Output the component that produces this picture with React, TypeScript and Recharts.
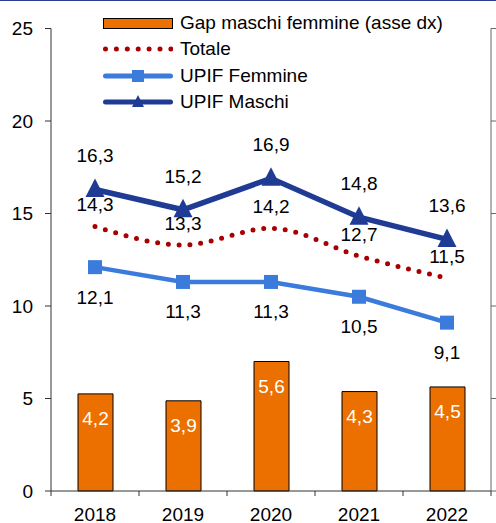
import React from 'react';
import { ComposedChart, Bar, Line, XAxis, YAxis, Legend, LabelList } from 'recharts';

// valori
const years = ['2018', '2019', '2020', '2021', '2022'];
const gapValues = [4.2, 3.9, 5.6, 4.3, 4.5];
const totaleValues = [14.3, 13.3, 14.2, 12.7, 11.5];
const femmineValues = [12.1, 11.3, 11.3, 10.5, 9.1];
const maschiValues = [16.3, 15.2, 16.9, 14.8, 13.6];
const leftTicks = [0, 5, 10, 15, 20, 25];
const rightTicks = [0, 4, 8, 12, 16, 20];

const data = years.map((year, i) => ({
  year,
  gap: gapValues[i],
  totale: totaleValues[i],
  femmine: femmineValues[i],
  maschi: maschiValues[i],
}));

const ORANGE = '#ec7000';
const RED = '#a80000';
const LIGHT_BLUE = '#3a7bdb';
const DARK_BLUE = '#1f3b94';
const AXIS = '#333333';
const FONT = '"Liberation Sans", Arial, sans-serif';

const fmt = (v: any) => Number(v).toFixed(1).replace('.', ',');

const Triangle = (props: any) => {
  const { cx, cy, index } = props;
  return (
    <polygon
      key={`tri-${index}`}
      points={`${cx},${cy - 11} ${cx + 9.5},${cy + 7.5} ${cx - 9.5},${cy + 7.5}`}
      fill={DARK_BLUE}
    />
  );
};

const Square = (props: any) => {
  const { cx, cy, index } = props;
  return <rect key={`sq-${index}`} x={cx - 7} y={cy - 7} width={14} height={14} fill={LIGHT_BLUE} />;
};

const YearTick = (props: any) => {
  const { x, y, payload, index, visibleTicksCount, width } = props;
  const half = width && visibleTicksCount ? width / visibleTicksCount / 2 : 44;
  const axisY = y - 17;
  return (
    <g>
      <line x1={x - half} x2={x - half} y1={axisY} y2={axisY + 5} stroke={AXIS} />
      {index === visibleTicksCount - 1 && (
        <line x1={x + half} x2={x + half} y1={axisY} y2={axisY + 5} stroke={AXIS} />
      )}
      <text x={x} y={y} dy="0.71em" textAnchor="middle" fontSize={19} fill="#000">
        {payload.value}
      </text>
    </g>
  );
};

const LegendBox = () => {
  const row = { display: 'flex', alignItems: 'center', height: 26.3 } as React.CSSProperties;
  const txt = { fontSize: 19, color: '#000', marginLeft: 7, whiteSpace: 'nowrap' } as React.CSSProperties;
  return (
    <div style={{ fontFamily: FONT }}>
      <div style={row}>
        <svg width={70} height={26}>
          <rect x={0.5} y={8.5} width={69} height={10} fill={ORANGE} stroke="#000" />
        </svg>
        <span style={txt}>Gap maschi femmine (asse dx)</span>
      </div>
      <div style={row}>
        <svg width={70} height={26}>
          <line x1={2.5} x2={68} y1={13} y2={13} stroke={RED} strokeWidth={5} strokeLinecap="round" strokeDasharray="0 10.9" />
        </svg>
        <span style={txt}>Totale</span>
      </div>
      <div style={row}>
        <svg width={70} height={26}>
          <line x1={2.5} x2={67.5} y1={13} y2={13} stroke={LIGHT_BLUE} strokeWidth={5} strokeLinecap="round" />
          <rect x={29} y={7} width={12} height={12} fill={LIGHT_BLUE} />
        </svg>
        <span style={txt}>UPIF Femmine</span>
      </div>
      <div style={row}>
        <svg width={70} height={26}>
          <line x1={2.5} x2={67.5} y1={13} y2={13} stroke={DARK_BLUE} strokeWidth={5} strokeLinecap="round" />
          <polygon points="35,6 41,18 29,18" fill={DARK_BLUE} />
        </svg>
        <span style={txt}>UPIF Maschi</span>
      </div>
    </div>
  );
};

export default function App() {
  return (
    <div
      style={{
        position: 'absolute',
        left: 0,
        top: 0,
        width: 496,
        height: 523,
        overflow: 'hidden',
        background: '#fff',
        borderTop: '1px solid #2b3f8f',
        boxSizing: 'border-box',
        fontFamily: FONT,
      }}
    >
      <ComposedChart width={540} height={522} data={data} margin={{ top: 27.5, right: 0, bottom: 0, left: 0 }}>
        <XAxis
          dataKey="year"
          height={32}
          stroke={AXIS}
          tickLine={false}
          tickSize={5}
          tickMargin={12}
          tick={<YearTick />}
          interval={0}
        />
        <YAxis
          yAxisId="left"
          domain={[0, 25]}
          ticks={leftTicks}
          width={51}
          stroke={AXIS}
          tickSize={6}
          tickMargin={12}
          tick={{ fontSize: 19, fill: '#000' }}
        />
        <YAxis
          yAxisId="right"
          orientation="right"
          domain={[0, 20]}
          ticks={rightTicks}
          width={49}
          stroke="#666666"
          tickSize={6}
          tick={{ fontSize: 19, fill: '#000' }}
        />
        <Legend
          layout="horizontal"
          verticalAlign="middle"
          align="center"
          wrapperStyle={{ top: 9, left: 103, width: 380 }}
          content={() => <LegendBox />}
        />
        <Bar yAxisId="right" dataKey="gap" barSize={35} fill={ORANGE} stroke="#000" strokeWidth={1} isAnimationActive={false}>
          <LabelList dataKey="gap" position="insideTop" offset={18} formatter={fmt} fill="#fff" fontSize={19} />
        </Bar>
        <Line
          yAxisId="left"
          type="monotone"
          dataKey="totale"
          stroke={RED}
          strokeWidth={5}
          strokeLinecap="round"
          strokeDasharray="0 10.8"
          dot={false}
          activeDot={false}
          isAnimationActive={false}
        >
          <LabelList dataKey="totale" position="top" offset={15} formatter={fmt} fill="#000" fontSize={19} />
        </Line>
        <Line
          yAxisId="left"
          type="linear"
          dataKey="femmine"
          stroke={LIGHT_BLUE}
          strokeWidth={4.5}
          dot={<Square />}
          activeDot={false}
          isAnimationActive={false}
        >
          <LabelList dataKey="femmine" position="bottom" offset={23} formatter={fmt} fill="#000" fontSize={19} />
        </Line>
        <Line
          yAxisId="left"
          type="linear"
          dataKey="maschi"
          stroke={DARK_BLUE}
          strokeWidth={5.5}
          dot={<Triangle />}
          activeDot={false}
          isAnimationActive={false}
        >
          <LabelList dataKey="maschi" position="top" offset={27} formatter={fmt} fill="#000" fontSize={19} />
        </Line>
      </ComposedChart>
    </div>
  );
}
